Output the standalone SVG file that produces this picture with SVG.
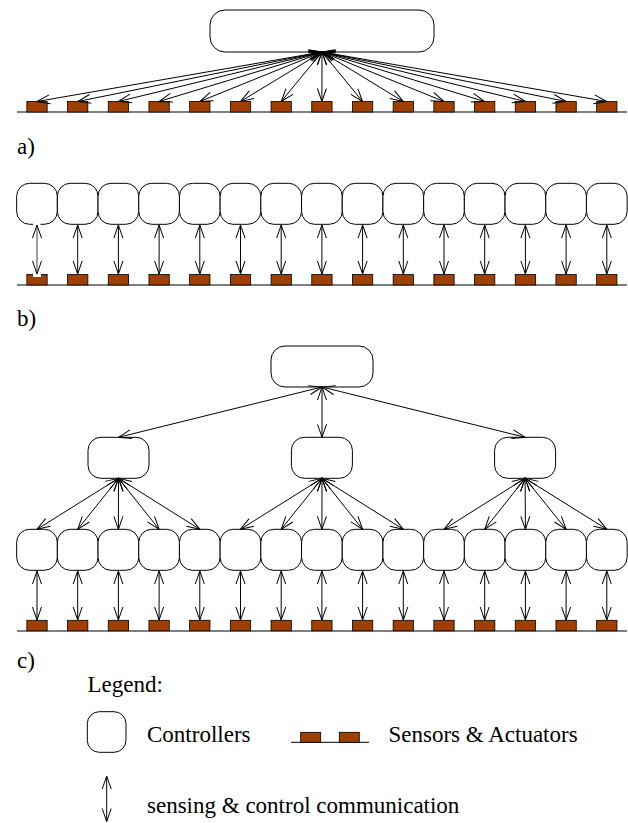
<svg xmlns="http://www.w3.org/2000/svg" width="628" height="823" viewBox="0 0 628 823">
  <style>
    .ctl { fill: #ffffff; stroke: #000000; stroke-width: 1; }
    .sen { fill: #a04000; stroke: #000000; stroke-width: 0.8; }
    .gnd { stroke: #000000; stroke-width: 1; fill: none; }
    .lnk { stroke: #000000; stroke-width: 1; fill: none; marker-start: url(#hd); marker-end: url(#hd); }
    text { font-family: 'Liberation Serif', 'DejaVu Serif', serif; font-size: 23px; fill: #000000; }
  </style>
  <defs>
    <marker id="hd" viewBox="-14 -6 15 12" refX="0" refY="0" markerWidth="15" markerHeight="12" markerUnits="userSpaceOnUse" orient="auto-start-reverse">
      <path d="M-13,-4.5 L0,0 L-13,4.5" fill="none" stroke="#000000" stroke-width="1"/>
    </marker>
    <rect id="s" width="20.3" height="10.5" class="sen"/>
    <rect id="c" width="40.7" height="41" rx="13" ry="13" class="ctl"/>
  </defs>

  <!-- a) single central controller -->
  <g id="a-controller">
    <rect x="210" y="10" width="224" height="42" rx="15" ry="15" class="ctl"/>
  </g>
  <g id="a-plant">
    <line x1="17" y1="112" x2="627" y2="112" class="gnd"/>
    <use href="#s" x="26.85" y="101.5"/><use href="#s" x="67.55" y="101.5"/><use href="#s" x="108.25" y="101.5"/>
    <use href="#s" x="148.95" y="101.5"/><use href="#s" x="189.65" y="101.5"/><use href="#s" x="230.35" y="101.5"/>
    <use href="#s" x="271.05" y="101.5"/><use href="#s" x="311.75" y="101.5"/><use href="#s" x="352.45" y="101.5"/>
    <use href="#s" x="393.15" y="101.5"/><use href="#s" x="433.85" y="101.5"/><use href="#s" x="474.55" y="101.5"/>
    <use href="#s" x="515.25" y="101.5"/><use href="#s" x="555.95" y="101.5"/><use href="#s" x="596.65" y="101.5"/>
  </g>
  <g id="a-links">
    <line x1="322" y1="52" x2="37" y2="101.5" class="lnk"/>
    <line x1="322" y1="52" x2="77.7" y2="101.5" class="lnk"/>
    <line x1="322" y1="52" x2="118.4" y2="101.5" class="lnk"/>
    <line x1="322" y1="52" x2="159.1" y2="101.5" class="lnk"/>
    <line x1="322" y1="52" x2="199.8" y2="101.5" class="lnk"/>
    <line x1="322" y1="52" x2="240.5" y2="101.5" class="lnk"/>
    <line x1="322" y1="52" x2="281.2" y2="101.5" class="lnk"/>
    <line x1="322" y1="52" x2="321.9" y2="101.5" class="lnk"/>
    <line x1="322" y1="52" x2="362.6" y2="101.5" class="lnk"/>
    <line x1="322" y1="52" x2="403.3" y2="101.5" class="lnk"/>
    <line x1="322" y1="52" x2="444" y2="101.5" class="lnk"/>
    <line x1="322" y1="52" x2="484.7" y2="101.5" class="lnk"/>
    <line x1="322" y1="52" x2="525.4" y2="101.5" class="lnk"/>
    <line x1="322" y1="52" x2="566.1" y2="101.5" class="lnk"/>
    <line x1="322" y1="52" x2="606.8" y2="101.5" class="lnk"/>
  </g>
  <text x="17" y="154" font-family="Liberation Serif, serif">a)</text>

  <!-- b) one local controller per sensor/actuator -->
  <g id="b-controllers">
    <use href="#c" x="16.65" y="183.3"/><use href="#c" x="57.35" y="183.3"/><use href="#c" x="98.05" y="183.3"/>
    <use href="#c" x="138.75" y="183.3"/><use href="#c" x="179.45" y="183.3"/><use href="#c" x="220.15" y="183.3"/>
    <use href="#c" x="260.85" y="183.3"/><use href="#c" x="301.55" y="183.3"/><use href="#c" x="342.25" y="183.3"/>
    <use href="#c" x="382.95" y="183.3"/><use href="#c" x="423.65" y="183.3"/><use href="#c" x="464.35" y="183.3"/>
    <use href="#c" x="505.05" y="183.3"/><use href="#c" x="545.75" y="183.3"/><use href="#c" x="586.45" y="183.3"/>
  </g>
  <g id="b-plant">
    <line x1="17" y1="285" x2="627" y2="285" class="gnd"/>
    <use href="#s" x="26.85" y="274.5"/><use href="#s" x="67.55" y="274.5"/><use href="#s" x="108.25" y="274.5"/>
    <use href="#s" x="148.95" y="274.5"/><use href="#s" x="189.65" y="274.5"/><use href="#s" x="230.35" y="274.5"/>
    <use href="#s" x="271.05" y="274.5"/><use href="#s" x="311.75" y="274.5"/><use href="#s" x="352.45" y="274.5"/>
    <use href="#s" x="393.15" y="274.5"/><use href="#s" x="433.85" y="274.5"/><use href="#s" x="474.55" y="274.5"/>
    <use href="#s" x="515.25" y="274.5"/><use href="#s" x="555.95" y="274.5"/><use href="#s" x="596.65" y="274.5"/>
  </g>
  <g id="b-links">
    <rect x="33" y="222.5" width="7.5" height="3" fill="#ffffff"/>
    <rect x="33" y="273.8" width="8" height="3.2" fill="#ffffff"/>
    <line x1="37" y1="225" x2="37" y2="274" class="lnk" stroke-opacity="0.75"/>
    <line x1="77.7" y1="225" x2="77.7" y2="274" class="lnk"/>
    <line x1="118.4" y1="225" x2="118.4" y2="274" class="lnk"/>
    <line x1="159.1" y1="225" x2="159.1" y2="274" class="lnk"/>
    <line x1="199.8" y1="225" x2="199.8" y2="274" class="lnk"/>
    <line x1="240.5" y1="225" x2="240.5" y2="274" class="lnk"/>
    <line x1="281.2" y1="225" x2="281.2" y2="274" class="lnk"/>
    <line x1="321.9" y1="225" x2="321.9" y2="274" class="lnk"/>
    <line x1="362.6" y1="225" x2="362.6" y2="274" class="lnk"/>
    <line x1="403.3" y1="225" x2="403.3" y2="274" class="lnk"/>
    <line x1="444" y1="225" x2="444" y2="274" class="lnk"/>
    <line x1="484.7" y1="225" x2="484.7" y2="274" class="lnk"/>
    <line x1="525.4" y1="225" x2="525.4" y2="274" class="lnk"/>
    <line x1="566.1" y1="225" x2="566.1" y2="274" class="lnk"/>
    <line x1="606.8" y1="225" x2="606.8" y2="274" class="lnk"/>
  </g>
  <text x="17" y="326">b)</text>

  <!-- c) hierarchical control -->
  <g id="c-top">
    <rect x="271" y="346" width="102" height="41" rx="14" ry="14" class="ctl"/>
  </g>
  <g id="c-mid-left">
    <rect x="88" y="437.3" width="61" height="41" rx="13" ry="13" class="ctl"/>
  </g>
  <g id="c-mid-centre">
    <rect x="291.4" y="437.3" width="61" height="41" rx="13" ry="13" class="ctl"/>
  </g>
  <g id="c-mid-right">
    <rect x="494.6" y="437.3" width="61" height="41" rx="13" ry="13" class="ctl"/>
  </g>
  <g id="c-controllers">
    <use href="#c" x="16.65" y="529.3"/><use href="#c" x="57.35" y="529.3"/><use href="#c" x="98.05" y="529.3"/>
    <use href="#c" x="138.75" y="529.3"/><use href="#c" x="179.45" y="529.3"/><use href="#c" x="220.15" y="529.3"/>
    <use href="#c" x="260.85" y="529.3"/><use href="#c" x="301.55" y="529.3"/><use href="#c" x="342.25" y="529.3"/>
    <use href="#c" x="382.95" y="529.3"/><use href="#c" x="423.65" y="529.3"/><use href="#c" x="464.35" y="529.3"/>
    <use href="#c" x="505.05" y="529.3"/><use href="#c" x="545.75" y="529.3"/><use href="#c" x="586.45" y="529.3"/>
  </g>
  <g id="c-plant">
    <line x1="17" y1="631" x2="627" y2="631" class="gnd"/>
    <use href="#s" x="26.85" y="620.3"/><use href="#s" x="67.55" y="620.3"/><use href="#s" x="108.25" y="620.3"/>
    <use href="#s" x="148.95" y="620.3"/><use href="#s" x="189.65" y="620.3"/><use href="#s" x="230.35" y="620.3"/>
    <use href="#s" x="271.05" y="620.3"/><use href="#s" x="311.75" y="620.3"/><use href="#s" x="352.45" y="620.3"/>
    <use href="#s" x="393.15" y="620.3"/><use href="#s" x="433.85" y="620.3"/><use href="#s" x="474.55" y="620.3"/>
    <use href="#s" x="515.25" y="620.3"/><use href="#s" x="555.95" y="620.3"/><use href="#s" x="596.65" y="620.3"/>
  </g>
  <g id="c-links">
    <!-- top to middle tier -->
    <line x1="322" y1="387" x2="118.5" y2="437.3" class="lnk"/>
    <line x1="322" y1="387" x2="322" y2="437.3" class="lnk"/>
    <line x1="322" y1="387" x2="525.1" y2="437.3" class="lnk"/>
    <!-- middle tier to local controllers -->
    <line x1="118.5" y1="478.3" x2="37" y2="529.3" class="lnk"/>
    <line x1="118.5" y1="478.3" x2="77.7" y2="529.3" class="lnk"/>
    <line x1="118.5" y1="478.3" x2="118.4" y2="529.3" class="lnk"/>
    <line x1="118.5" y1="478.3" x2="159.1" y2="529.3" class="lnk"/>
    <line x1="118.5" y1="478.3" x2="199.8" y2="529.3" class="lnk"/>
    <line x1="322" y1="478.3" x2="240.5" y2="529.3" class="lnk"/>
    <line x1="322" y1="478.3" x2="281.2" y2="529.3" class="lnk"/>
    <line x1="322" y1="478.3" x2="321.9" y2="529.3" class="lnk"/>
    <line x1="322" y1="478.3" x2="362.6" y2="529.3" class="lnk"/>
    <line x1="322" y1="478.3" x2="403.3" y2="529.3" class="lnk"/>
    <line x1="525.1" y1="478.3" x2="444" y2="529.3" class="lnk"/>
    <line x1="525.1" y1="478.3" x2="484.7" y2="529.3" class="lnk"/>
    <line x1="525.1" y1="478.3" x2="525.4" y2="529.3" class="lnk"/>
    <line x1="525.1" y1="478.3" x2="566.1" y2="529.3" class="lnk"/>
    <line x1="525.1" y1="478.3" x2="606.8" y2="529.3" class="lnk"/>
    <!-- local controllers to sensors/actuators -->
    <line x1="37" y1="571" x2="37" y2="620" class="lnk"/>
    <line x1="77.7" y1="571" x2="77.7" y2="620" class="lnk"/>
    <line x1="118.4" y1="571" x2="118.4" y2="620" class="lnk"/>
    <line x1="159.1" y1="571" x2="159.1" y2="620" class="lnk"/>
    <line x1="199.8" y1="571" x2="199.8" y2="620" class="lnk"/>
    <line x1="240.5" y1="571" x2="240.5" y2="620" class="lnk"/>
    <line x1="281.2" y1="571" x2="281.2" y2="620" class="lnk"/>
    <line x1="321.9" y1="571" x2="321.9" y2="620" class="lnk"/>
    <line x1="362.6" y1="571" x2="362.6" y2="620" class="lnk"/>
    <line x1="403.3" y1="571" x2="403.3" y2="620" class="lnk"/>
    <line x1="444" y1="571" x2="444" y2="620" class="lnk"/>
    <line x1="484.7" y1="571" x2="484.7" y2="620" class="lnk"/>
    <line x1="525.4" y1="571" x2="525.4" y2="620" class="lnk"/>
    <line x1="566.1" y1="571" x2="566.1" y2="620" class="lnk"/>
    <line x1="606.8" y1="571" x2="606.8" y2="620" class="lnk"/>
  </g>
  <text x="17" y="668">c)</text>

  <!-- legend -->
  <g id="legend">
    <text x="87.5" y="692">Legend:</text>
    <rect x="87.3" y="711.7" width="38.7" height="40.6" rx="12" ry="12" class="ctl"/>
    <text x="147" y="742">Controllers</text>
    <line x1="291" y1="742.3" x2="369" y2="742.3" class="gnd"/>
    <rect x="300.7" y="732.3" width="20" height="10" class="sen"/>
    <rect x="339.3" y="732.3" width="20" height="10" class="sen"/>
    <text x="388.5" y="742">Sensors &amp; Actuators</text>
    <line x1="106.7" y1="776" x2="106.7" y2="821.5" class="lnk"/>
    <text x="147" y="812.5">sensing &amp; control communication</text>
  </g>
</svg>
